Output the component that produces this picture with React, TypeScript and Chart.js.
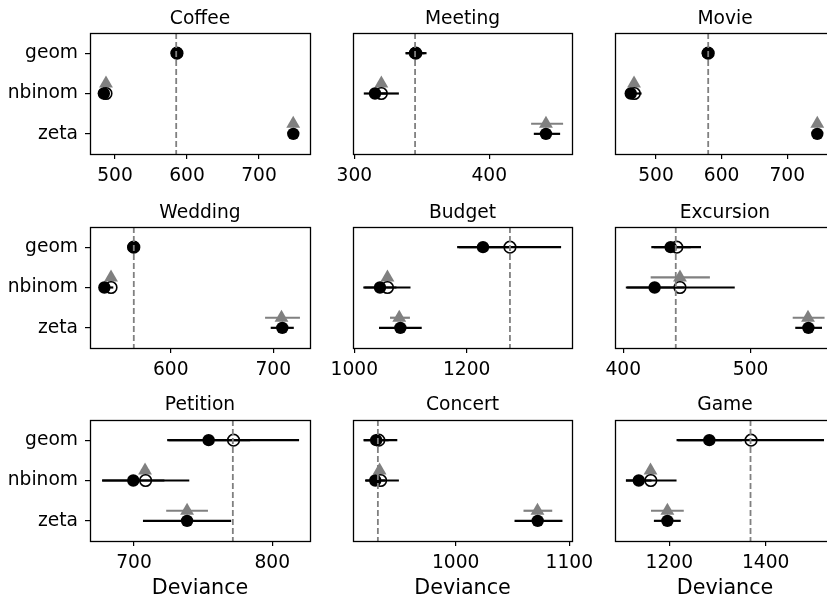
import React, { useEffect, useRef } from "react";
import { Chart, registerables } from "chart.js";

Chart.register(...registerables);

// ---------------- data ----------------
const panelTitles = ["Coffee", "Meeting", "Movie", "Wedding", "Budget", "Excursion", "Petition", "Concert", "Game"];
const modelLabels = ["geom", "nbinom", "zeta"];
const xAxisLabel = "Deviance";

// filled black circles: [geom, nbinom, zeta] per panel
const filledValues = [
  [586, 484.5, 747.6],
  [345, 315.3, 442],
  [579, 461.5, 745.7],
  [563.6, 535.3, 708.8],
  [1229, 1045.7, 1082],
  [437.2, 424.6, 545.3],
  [754, 699.5, 738.4],
  [930, 929.2, 1072.2],
  [1283, 1136.6, 1196],
];
const filledLow = [
  [584, 482, 745],
  [338, 307, 433],
  [577, 459, 743],
  [559, 531, 697.5],
  [1183, 1016, 1044],
  [422, 402, 535],
  [724, 677, 706.5],
  [919, 920.2, 1051.8],
  [1215, 1110, 1168],
];
const filledHigh = [
  [588, 487, 750],
  [352, 324, 452.5],
  [581, 464, 748],
  [568, 539, 720],
  [1275, 1075, 1120],
  [453, 448, 556],
  [784, 722, 770.3],
  [941, 938, 1094],
  [1351, 1163, 1223.7],
];

// open circles: [geom, nbinom, zeta] per panel
const openValues = [
  [586, 487.5, null],
  [345.5, 320, null],
  [579.5, 467, null],
  [564, 541.8, null],
  [1277, 1059, null],
  [442, 444.5, null],
  [772, 708.4, null],
  [932.3, 933.9, null],
  [1369.6, 1161.6, null],
];
const openLow = [
  [584, 485, null],
  [338, 311, null],
  [577, 462, null],
  [558, 533, null],
  [1186, 1018, null],
  [424, 403, null],
  [725, 677, null],
  [919, 921, null],
  [1218, 1110, null],
];
const openHigh = [
  [588, 490, null],
  [353.5, 333, null],
  [582, 478, null],
  [569, 544, null],
  [1368, 1100, null],
  [461, 487.5, null],
  [819.4, 740, null],
  [948.6, 950, null],
  [1521, 1215, null],
];

// gray triangles: [geom, nbinom, zeta] per panel
const triangleValues = [
  [null, 487.5, 747.5],
  [null, 320, 442],
  [null, 466.5, 745.7],
  [null, 541.8, 708],
  [null, 1059, 1080],
  [null, 444.5, 545],
  [null, 708, 738.4],
  [null, 933, 1072],
  [null, 1161, 1196],
];
const triangleLow = [
  [null, 486, 745],
  [null, 318, 431],
  [null, 464, 743],
  [null, 540, 692],
  [null, 1055, 1063.5],
  [null, 421.5, 533],
  [null, 705, 723.3],
  [null, 930, 1059.7],
  [null, 1155, 1162],
];
const triangleHigh = [
  [null, 489, 750],
  [null, 322, 454.7],
  [null, 469, 748],
  [null, 543.5, 726],
  [null, 1063, 1099],
  [null, 468, 558],
  [null, 711, 753.5],
  [null, 936, 1085],
  [null, 1167, 1230],
];

// dashed reference lines
const referenceValues = [585, 345, 579.5, 564, 1277, 441.2, 771.5, 931.5, 1368.5];

// x axis ticks and limits
const xTickValues = [
  [500, 600, 700],
  [300, 400],
  [500, 600, 700],
  [600, 700],
  [1000, 1200],
  [400, 500],
  [700, 800],
  [1000, 1100],
  [1200, 1400],
];
const xLimits = [
  [465.3, 770.8],
  [299, 461.3],
  [437.5, 772.7],
  [521.3, 735.8],
  [997.7, 1387.4],
  [393.5, 566.2],
  [668.2, 827.3],
  [909.6, 1102.4],
  [1087.3, 1543.8],
];

// ---------------- layout / style ----------------
const FONT = "'DejaVu Sans', sans-serif";
const GRAY = "#808080";
const TRI_OFFSET = -0.25;

const colLeft = [0, 320, 585];
const colWidth = [320, 280, 260];
const boxLeftIn = [90, 33, 30];
const boxRightPad = [10, 28, 10];

const rowTop = [0, 190, 380];
const rowHeight = [190, 190, 219];
const titlePadTop = [8, 11.5, 13.5];
const titlePadBottom = [2.6, 3.1, 4.1];
const xAxisHeight = [36, 32, 58];

const errorBarPlugin = {
  id: "errorBars",
  beforeDatasetsDraw(chart: any) {
    const { ctx } = chart;
    const xs = chart.scales.x;
    const ys = chart.scales.y;
    const ds = chart.data.datasets;
    ctx.save();
    ctx.lineCap = "butt";
    for (let i = ds.length - 1; i >= 0; i--) {
      const d: any = ds[i];
      if (!d.errorColor) continue;
      ctx.strokeStyle = d.errorColor;
      ctx.lineWidth = 2.2;
      d.data.forEach((p: any) => {
        const y = ys.getPixelForValue(p.y);
        ctx.beginPath();
        ctx.moveTo(xs.getPixelForValue(p.xMin), y);
        ctx.lineTo(xs.getPixelForValue(p.xMax), y);
        ctx.stroke();
      });
    }
    ctx.restore();
  },
};

const framePlugin = {
  id: "frame",
  afterDatasetsDraw(chart: any) {
    const { ctx, chartArea } = chart;
    const { left, top, right, bottom } = chartArea;
    ctx.save();
    ctx.strokeStyle = "#000";
    ctx.lineWidth = 1.3;
    ctx.strokeRect(Math.round(left) + 0.5, Math.round(top) + 0.5, Math.round(right - left), Math.round(bottom - top));
    ctx.restore();
  },
};

function buildPoints(vals: (number | null)[], lo: (number | null)[], hi: (number | null)[], offset: number) {
  const out: any[] = [];
  vals.forEach((v, k) => {
    if (v == null) return;
    out.push({ x: v, y: k + offset, xMin: lo[k], xMax: hi[k] });
  });
  return out;
}

function Panel({ idx }: { idx: number }) {
  const ref = useRef<HTMLCanvasElement>(null);
  const row = Math.floor(idx / 3);
  const col = idx % 3;

  useEffect(() => {
    const canvas = ref.current!;
    const chart = new Chart(canvas, {
      type: "scatter",
      data: {
        datasets: [
          {
            label: "reference",
            data: [
              { x: referenceValues[idx], y: -0.5 },
              { x: referenceValues[idx], y: 2.5 },
            ],
            showLine: true,
            borderColor: GRAY,
            borderWidth: 1.8,
            borderDash: [6, 3],
            pointRadius: 0,
          } as any,
          {
            label: "open",
            data: buildPoints(openValues[idx], openLow[idx], openHigh[idx], 0),
            pointStyle: "circle",
            pointRadius: 5.8,
            pointBackgroundColor: "rgba(0,0,0,0)",
            pointBorderColor: "#000",
            pointBorderWidth: 1.6,
            errorColor: "#000",
          } as any,
          {
            label: "filled",
            data: buildPoints(filledValues[idx], filledLow[idx], filledHigh[idx], 0),
            pointStyle: "circle",
            pointRadius: 6.2,
            pointBackgroundColor: "#000",
            pointBorderColor: "#000",
            pointBorderWidth: 0,
            errorColor: "#000",
          } as any,
          {
            label: "triangle",
            data: buildPoints(triangleValues[idx], triangleLow[idx], triangleHigh[idx], TRI_OFFSET),
            pointStyle: "triangle",
            pointRadius: 8,
            pointBackgroundColor: GRAY,
            pointBorderColor: GRAY,
            pointBorderWidth: 0,
            errorColor: GRAY,
          } as any,
        ],
      },
      options: {
        animation: false,
        responsive: false,
        devicePixelRatio: 1,
        events: [],
        layout: { padding: { left: 0, top: 0, bottom: 0, right: boxRightPad[col] } },
        plugins: {
          legend: { display: false },
          tooltip: { enabled: false },
          title: {
            display: true,
            text: panelTitles[idx],
            fullSize: false,
            color: "#000",
            font: { family: FONT, size: 18.67, weight: "normal", lineHeight: 1.2 },
            padding: { top: titlePadTop[row], bottom: titlePadBottom[row] },
          },
        },
        scales: {
          x: {
            type: "linear",
            min: xLimits[idx][0],
            max: xLimits[idx][1],
            afterBuildTicks: (s: any) => {
              s.ticks = xTickValues[idx].map((v) => ({ value: v }));
            },
            afterFit: (s: any) => {
              s.height = xAxisHeight[row];
              s.paddingLeft = 0;
              s.paddingRight = 0;
            },
            ticks: {
              autoSkip: false,
              maxRotation: 0,
              minRotation: 0,
              padding: 6,
              color: "#000",
              font: { family: FONT, size: 18.67 },
              callback: (v: any) => String(v),
            },
            grid: {
              display: true,
              drawOnChartArea: false,
              drawTicks: true,
              tickLength: 5,
              color: "#000",
              lineWidth: 1.2,
            },
            border: { display: false },
            title: {
              display: row === 2,
              text: xAxisLabel,
              color: "#000",
              font: { family: FONT, size: 20.7, lineHeight: 1.2 },
              padding: { top: 0, bottom: -2 },
            },
          },
          y: {
            type: "linear",
            min: -0.5,
            max: 2.5,
            reverse: true,
            afterBuildTicks: (s: any) => {
              s.ticks = modelLabels.map((_, k) => ({ value: k }));
            },
            afterFit: (s: any) => {
              s.width = boxLeftIn[col];
              s.paddingTop = 0;
              s.paddingBottom = 0;
            },
            ticks: {
              display: col === 0,
              padding: 7,
              color: "#000",
              font: { family: FONT, size: 18.67 },
              callback: (v: any) => modelLabels[v] ?? "",
            },
            grid: {
              display: col === 0,
              drawOnChartArea: false,
              drawTicks: true,
              tickLength: 5,
              color: "#000",
              lineWidth: 1.2,
            },
            border: { display: false },
          },
        },
      } as any,
      plugins: [errorBarPlugin, framePlugin],
    });
    return () => chart.destroy();
  }, [idx]);

  return (
    <canvas
      ref={ref}
      width={colWidth[col]}
      height={rowHeight[row]}
      style={{
        position: "absolute",
        left: colLeft[col],
        top: rowTop[row],
        width: colWidth[col],
        height: rowHeight[row],
        display: "block",
      }}
    />
  );
}

export default function App() {
  return (
    <div
      style={{
        position: "fixed",
        left: 0,
        top: 0,
        width: 827,
        height: 599,
        overflow: "hidden",
        background: "#fff",
      }}
    >
      {panelTitles.map((_, i) => (
        <Panel key={i} idx={i} />
      ))}
    </div>
  );
}
